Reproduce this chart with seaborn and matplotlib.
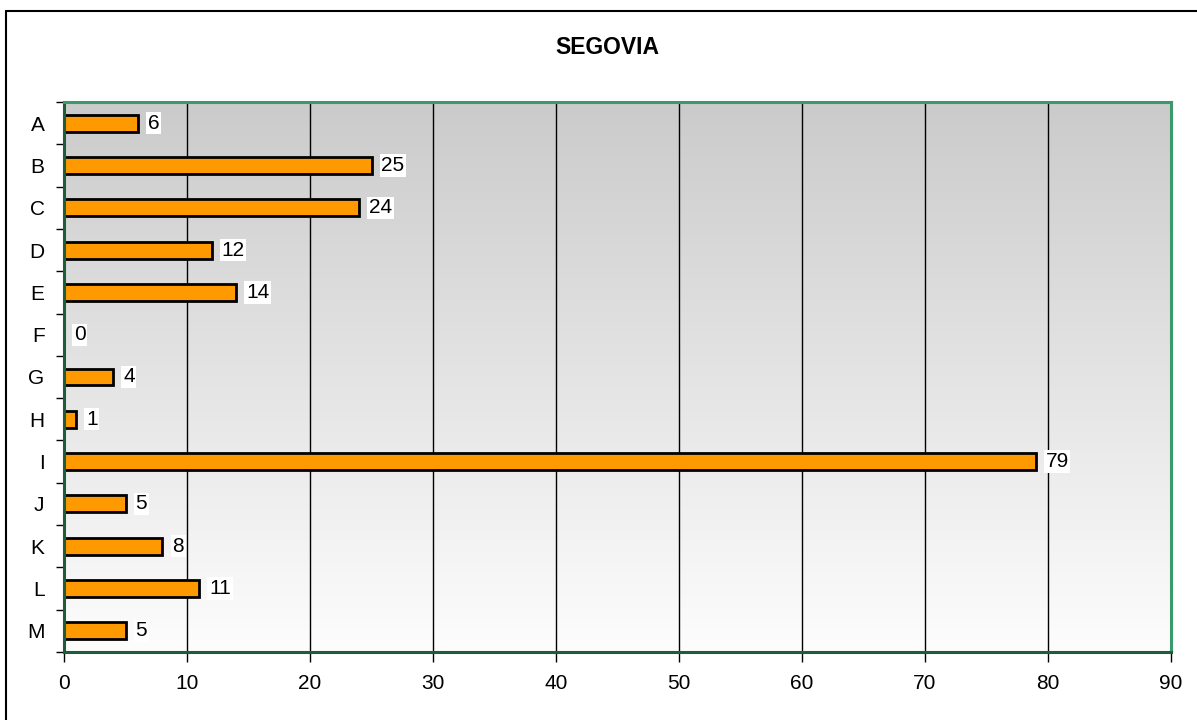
# SEGOVIA horizontal bar chart

# IMPORTS
import numpy as np
import pandas as pd
import matplotlib
matplotlib.use("Agg")
import matplotlib.pyplot as plt
import seaborn as sns

# Data
categories = ["A", "B", "C", "D", "E", "F", "G", "H", "I", "J", "K", "L", "M"]
values = [6, 25, 24, 12, 14, 0, 4, 1, 79, 5, 8, 11, 5]
x_ticks = [0, 10, 20, 30, 40, 50, 60, 70, 80, 90]

df = pd.DataFrame({"cat": categories, "val": values})

# Style
sns.set_theme(style="white")
plt.rcParams["font.family"] = ["Liberation Sans", "DejaVu Sans"]
plt.rcParams["text.color"] = "black"
plt.rcParams["xtick.color"] = "black"
plt.rcParams["ytick.color"] = "black"

fig = plt.figure(figsize=(11.97, 7.2), dpi=100)
ax = fig.add_axes([64 / 1197, 1 - 652 / 720, (1171 - 64) / 1197, 550 / 720])

# Gradient background (grey at top, white at bottom)
grad = np.linspace(0, 1, 256).reshape(-1, 1)
ax.imshow(grad, aspect="auto", cmap=matplotlib.colors.LinearSegmentedColormap.from_list(
    "bg", ["#cbcbcb", "#fdfdfd"]), extent=[0, 1, 0, 1], transform=ax.transAxes, zorder=0)

# Bars
sns.barplot(data=df, x="val", y="cat", orient="h", color="#ff9900", edgecolor="black",
            linewidth=2, width=0.4, saturation=1, ax=ax, zorder=3)

# Data labels
for i, v in enumerate(values):
    ax.text(v + 0.8, i, str(v), va="center", ha="left", fontsize=15, zorder=4,
            bbox=dict(facecolor="white", edgecolor="none", pad=1.2))

# Axes
ax.set_xlim(0, 90)
ax.set_ylim(len(categories) - 0.5, -0.5)
ax.set_xticks(x_ticks)
ax.set_xticklabels([str(t) for t in x_ticks], fontsize=15)
ax.set_yticks(range(len(categories)))
ax.set_yticklabels(categories, fontsize=15)
ax.set_xlabel("")
ax.set_ylabel("")

ax.tick_params(axis="y", which="major", length=0, pad=14)
ax.set_yticks(np.arange(-0.5, len(categories), 1), minor=True)
ax.tick_params(axis="y", which="minor", left=True, length=6, width=1, color="black")
ax.tick_params(axis="x", which="major", bottom=True, length=7, width=1, color="black", pad=9)

ax.grid(axis="x", color="black", linewidth=1, zorder=1)
ax.set_axisbelow(True)

for side, spine in ax.spines.items():
    spine.set_visible(True)
    spine.set_color("#3a9a6a")
    spine.set_linewidth(2.2)
    spine.set_zorder(5)
ax.spines["bottom"].set_color("#1f5c3a")
ax.spines["left"].set_color("#1f5c3a")

# Title
fig.text(607 / 1197, 1 - 48 / 720, "SEGOVIA", ha="center", va="center",
         fontsize=16.5, fontweight="bold")

# Outer chart border
fig.add_artist(plt.Line2D([6 / 1197, 6 / 1197], [0, 1 - 11 / 720], color="black",
                          linewidth=1.5, transform=fig.transFigure))
fig.add_artist(plt.Line2D([6 / 1197, 1], [1 - 11 / 720, 1 - 11 / 720], color="black",
                          linewidth=1.5, transform=fig.transFigure))

fig.savefig("out.png", dpi=100)
